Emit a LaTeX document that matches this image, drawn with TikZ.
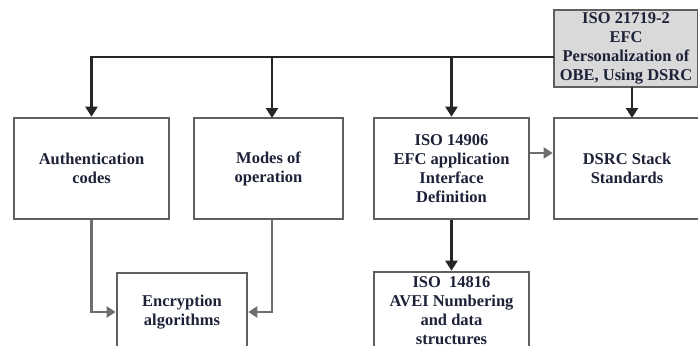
\documentclass[tikz,border=0pt]{standalone}
\usepackage{fontspec}
\setmainfont{Liberation Serif}
\usetikzlibrary{arrows.meta}
\definecolor{boxline}{HTML}{5F5F5F}
\definecolor{boxfill}{HTML}{D9D9D9}
\definecolor{txt}{HTML}{1E2238}
\definecolor{grayarrow}{HTML}{6E6E6E}
\begin{document}
\begin{tikzpicture}[x=1pt, y=-1pt,
    blockbox/.style={draw=boxline, line width=2.6pt, inner sep=0pt, align=center,
        font=\fontsize{16.5}{19}\selectfont\bfseries, text=txt},
    blackarrow/.style={draw=black!85, line width=2.3pt, -{Triangle[length=10pt, width=12pt]}},
    grayline/.style={draw=grayarrow, line width=2.6pt, -{Triangle[length=9pt, width=11pt]}}]
    \useasboundingbox (0, 0) rectangle (698, 345);
    \begin{scope}
    \clip (0, 0) rectangle (698, 345);

    % Top block
    \node[blockbox, fill=boxfill, minimum width=144pt, minimum height=77pt] (iso21719) at (626, 48.5)
        {ISO 21719-2\\EFC\\Personalization of\\OBE, Using DSRC};

    % Middle row
    \node[blockbox, minimum width=155pt, minimum height=101pt] (auth) at (91.5, 168.5) {Authentication\\codes};
    \node[blockbox, minimum width=149pt, minimum height=101pt] (modes) at (268.5, 168.5) {Modes of\\operation};
    \node[blockbox, minimum width=155pt, minimum height=101pt] (iso14906) at (451.5, 168.5)
        {ISO 14906\\EFC application\\Interface\\Definition};
    \node[blockbox, minimum width=146pt, minimum height=101pt] (dsrc) at (627, 168.5) {DSRC Stack\\Standards};

    % Bottom row
    \node[blockbox, minimum width=130pt, minimum height=78pt] (encr) at (182, 312) {Encryption\\algorithms};
    \node[blockbox, minimum width=155pt, minimum height=78pt] (iso14816) at (451.5, 311)
        {ISO\ \ 14816\\AVEI Numbering\\and data\\structures};
    \end{scope}

    % Connectors
    \coordinate (bus) at (554, 57);
    \draw[blackarrow] (bus) -| (auth.north);
    \draw[blackarrow] (272, 57) -- (272, 118);
    \draw[blackarrow] (iso14906.north |- bus) -- (iso14906.north);
    \draw[blackarrow] (632, 87) -- (632, 118);
    \draw[grayline] (auth.south) |- (encr.west);
    \draw[grayline] (272, 219) |- (encr.east);
    \draw[grayline] (iso14906.east |- 0, 153) -- (dsrc.west |- 0, 153);
    \draw[blackarrow] (iso14906.south) -- (iso14816.north);
\end{tikzpicture}
\end{document}
